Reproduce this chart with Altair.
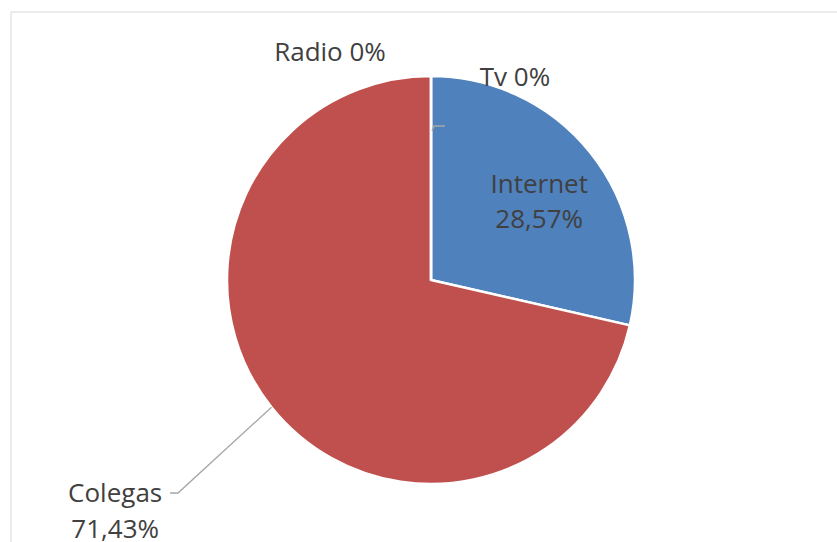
import numpy as np
import pandas as pd
import altair as alt

categories = ["Tv", "Internet", "Colegas", "Radio"]
values = [0.0, 28.57, 71.43, 0.0]
pct_labels = ["0%", "28,57%", "71,43%", "0%"]
colors = ["#4F81BD", "#4F81BD", "#C0504D", "#C0504D"]

df = pd.DataFrame({
    "cat": categories,
    "value": values,
    "pct": pct_labels,
    "ord": list(range(len(categories))),
})
df["inline"] = df["cat"] + " " + df["pct"]

CX, CY, R = 431, 280, 204
FONT = "Open Sans"
TXT = "#404040"

base = alt.Chart(df).encode(
    theta=alt.Theta("value:Q", stack=True),
    order=alt.Order("ord:Q"),
)

pie = base.mark_arc(outerRadius=R, stroke="white", strokeWidth=2.5).encode(
    color=alt.Color("cat:N", scale=alt.Scale(domain=categories, range=colors), legend=None),
    x=alt.value(CX), y=alt.value(CY),
)

def txt(cat, field, radius, dx, dy):
    return base.mark_text(
        radius=radius, dx=dx, dy=dy, font=FONT, fontSize=26, color=TXT, align="center", baseline="middle"
    ).encode(
        text=alt.condition(alt.datum.cat == cat, f"{field}:N", alt.value("")),
        x=alt.value(CX), y=alt.value(CY),
    )

labels = [
    txt("Internet", "cat", 132, 5, -13),
    txt("Internet", "pct", 132, 5, 22),
    txt("Colegas", "cat", 372, -25, -18),
    txt("Colegas", "pct", 372, -25, 18),
    txt("Tv", "inline", 202, 84, 0),
    txt("Radio", "inline", 227, -101, 0),
]

# leader line for Colegas: from arc edge at slice midpoint to the label
cum = np.cumsum(values)
tot = cum[-1]
i = categories.index("Colegas")
mid = (cum[i] - values[i] / 2) / tot * 2 * np.pi
ex, ey = CX + R * np.sin(mid), CY - R * np.cos(mid)
lead = pd.DataFrame({
    "px": [ex, 178, 170],
    "py": [ey, 493, 493],
    "k": [0, 1, 2],
})
leader = alt.Chart(lead).mark_line(color="#A6A6A6", strokeWidth=1.3).encode(
    x=alt.X("px:Q", scale=None), y=alt.Y("py:Q", scale=None), order="k:Q"
)
# small leader for the zero slices at top
lead0 = pd.DataFrame({"px": [445, 434, 432], "py": [126, 126, 131], "k": [0, 1, 2]})
leader0 = alt.Chart(lead0).mark_line(color="#A6A6A6", strokeWidth=1.3).encode(
    x=alt.X("px:Q", scale=None), y=alt.Y("py:Q", scale=None), order="k:Q"
)

frame = alt.Chart(df).mark_rect(fill="white", stroke="#D9D9D9", strokeWidth=1).encode(
    x=alt.value(11), y=alt.value(12), x2=alt.value(900), y2=alt.value(600)
).transform_filter(alt.datum.ord == 0)

chart = alt.layer(frame, pie, leader, leader0, *labels).properties(
    width=837, height=542, padding=0, autosize=alt.AutoSizeParams(type="none"),
    background="white",
).configure_view(stroke=None)

chart.save("out.html", embed_options={"renderer": "svg", "actions": False})
